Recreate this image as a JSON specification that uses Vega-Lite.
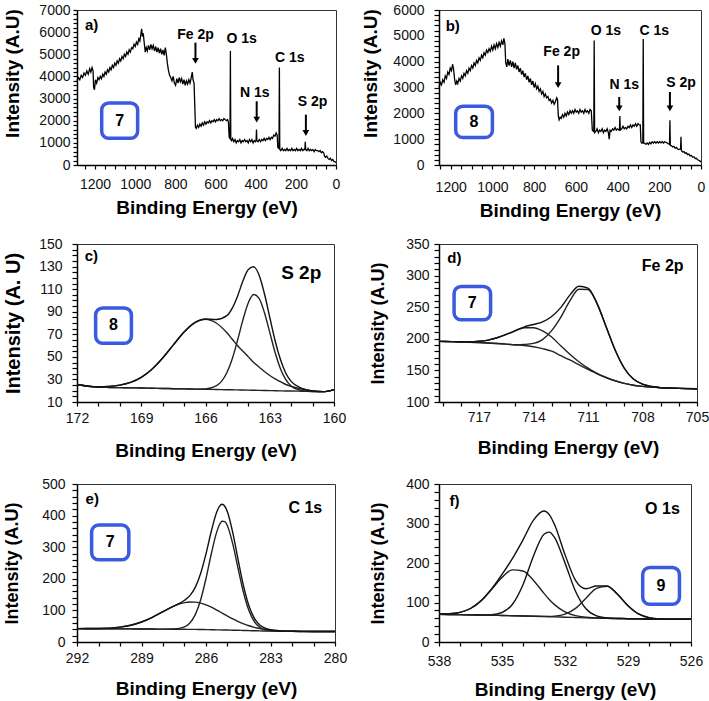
{
"$schema":"https://vega.github.io/schema/vega-lite/v6.json",
"padding":{"left":3,"top":2,"right":0,"bottom":0},
"background":"#ffffff",
"config":{
 "font":"Liberation Sans",
 "view":{"stroke":"#333","strokeWidth":1},
 "axis":{"grid":false,"domainColor":"#000","domainWidth":1.5,"tickColor":"#000","tickWidth":1.2,"tickSize":4,"labelFont":"Liberation Sans","labelFontSize":14,"labelColor":"#111","titleFont":"Liberation Sans","titleFontSize":19,"titleFontWeight":"bold","titleColor":"#000","labelFlush":false,"labelOverlap":false,"format":"d"},
 "text":{"font":"Liberation Sans","fontWeight":"bold","color":"#000"}
},
"resolve":{"scale":{"x":"independent","y":"independent"}},
"columns":2,
"align":{"row":"each","column":"each"},
"spacing":{"row":15,"column":13},
"concat":[
{"width":259,"height":155,
 "encoding":{
  "x":{"field":"e","type":"quantitative","scale":{"domain":[0,1290],"reverse":true,"nice":false,"zero":false},
   "axis":{"title":"Binding Energy (eV)","values":[0,50,100,150,200,250,300,350,400,450,500,550,600,650,700,750,800,850,900,950,1000,1050,1100,1150,1200,1250],"labelExpr":"datum.value % 200 === 0 ? datum.label : ''","tickSize":4,"labelPadding":8,"titlePadding":7}},
  "y":{"field":"i","type":"quantitative","scale":{"domain":[0,7000],"nice":false},
   "axis":{"title":"Intensity (A.U)","values":[0,200,400,600,800,1000,1200,1400,1600,1800,2000,2200,2400,2600,2800,3000,3200,3400,3600,3800,4000,4200,4400,4600,4800,5000,5200,5400,5600,5800,6000,6200,6400,6600,6800,7000],"labelExpr":"datum.value % 1000 === 0 ? datum.label : ''","tickSize":4,"labelPadding":3,"titlePadding":16,"titleY":63}}
 },
 "layer":[
  {"data":{"values":[
{"e":1290,"i":3800},{"e":1283,"i":3950},{"e":1276,"i":3850},{"e":1269,"i":4050},{"e":1262,"i":3950},{"e":1255,"i":4150},{"e":1248,"i":4050},{"e":1241,"i":4250},{"e":1234,"i":4100},{"e":1227,"i":4350},{"e":1221,"i":4200},{"e":1215,"i":4400},{"e":1210,"i":4250},{"e":1207,"i":3500},{"e":1203,"i":3400},{"e":1198,"i":3850},{"e":1192,"i":3700},{"e":1186,"i":3950},{"e":1180,"i":3850},{"e":1174,"i":4000},{"e":1168,"i":3900},{"e":1162,"i":4100},{"e":1156,"i":4000},{"e":1150,"i":4200},{"e":1144,"i":4100},{"e":1138,"i":4300},{"e":1132,"i":4200},{"e":1126,"i":4400},{"e":1120,"i":4300},{"e":1114,"i":4500},{"e":1108,"i":4400},{"e":1102,"i":4600},{"e":1096,"i":4500},{"e":1090,"i":4700},{"e":1084,"i":4600},{"e":1078,"i":4800},{"e":1072,"i":4700},{"e":1066,"i":4900},{"e":1060,"i":4800},{"e":1054,"i":5000},{"e":1048,"i":4900},{"e":1042,"i":5100},{"e":1036,"i":5000},{"e":1030,"i":5200},{"e":1024,"i":5100},{"e":1018,"i":5300},{"e":1012,"i":5250},{"e":1006,"i":5450},{"e":1000,"i":5350},{"e":994,"i":5550},{"e":988,"i":5450},{"e":982,"i":5700},{"e":977,"i":5600},{"e":972,"i":5900},{"e":968,"i":6150},{"e":964,"i":5800},{"e":960,"i":5950},{"e":955,"i":5500},{"e":950,"i":5100},{"e":945,"i":5300},{"e":940,"i":5150},{"e":934,"i":5400},{"e":928,"i":5200},{"e":922,"i":5450},{"e":916,"i":5250},{"e":910,"i":5400},{"e":904,"i":5150},{"e":898,"i":5350},{"e":892,"i":5100},{"e":886,"i":5300},{"e":880,"i":5050},{"e":874,"i":5250},{"e":868,"i":5000},{"e":862,"i":5200},{"e":856,"i":4950},{"e":850,"i":5300},{"e":845,"i":5000},{"e":840,"i":4600},{"e":835,"i":4300},{"e":829,"i":4050},{"e":823,"i":3950},{"e":817,"i":3800},{"e":811,"i":4000},{"e":805,"i":3700},{"e":799,"i":3600},{"e":793,"i":3900},{"e":787,"i":3700},{"e":781,"i":3950},{"e":775,"i":3750},{"e":769,"i":3900},{"e":763,"i":3650},{"e":757,"i":3850},{"e":751,"i":3600},{"e":745,"i":3800},{"e":739,"i":3650},{"e":733,"i":3850},{"e":727,"i":3700},{"e":721,"i":3950},{"e":716,"i":4200},{"e":712,"i":3850},{"e":707,"i":3700},{"e":703,"i":2600},{"e":700,"i":1700},{"e":696,"i":1650},{"e":690,"i":1800},{"e":684,"i":1700},{"e":678,"i":1850},{"e":672,"i":1750},{"e":666,"i":1900},{"e":660,"i":1800},{"e":654,"i":1950},{"e":648,"i":1850},{"e":642,"i":1950},{"e":636,"i":1900},{"e":630,"i":2000},{"e":624,"i":1900},{"e":618,"i":2000},{"e":612,"i":1950},{"e":606,"i":2050},{"e":600,"i":1950},{"e":594,"i":2050},{"e":588,"i":2000},{"e":582,"i":2100},{"e":576,"i":2000},{"e":570,"i":2050},{"e":564,"i":2000},{"e":558,"i":2100},{"e":552,"i":2050},{"e":546,"i":2000},{"e":540,"i":2050},{"e":536,"i":1950},{"e":532,"i":1250},{"e":528,"i":1200},{"e":526,"i":5150},{"e":524,"i":1150},{"e":520,"i":1100},{"e":515,"i":1200},{"e":509,"i":1050},{"e":503,"i":1150},{"e":497,"i":1000},{"e":491,"i":1100},{"e":485,"i":1050},{"e":479,"i":1150},{"e":473,"i":1000},{"e":467,"i":1100},{"e":461,"i":1050},{"e":455,"i":1150},{"e":449,"i":1050},{"e":443,"i":1100},{"e":437,"i":1000},{"e":431,"i":1150},{"e":425,"i":1050},{"e":419,"i":1150},{"e":413,"i":1000},{"e":407,"i":1100},{"e":401,"i":1050},{"e":398,"i":1100},{"e":396,"i":1600},{"e":394,"i":1100},{"e":388,"i":1050},{"e":382,"i":1150},{"e":376,"i":1050},{"e":370,"i":1150},{"e":364,"i":1100},{"e":358,"i":1200},{"e":352,"i":1100},{"e":346,"i":1200},{"e":340,"i":1150},{"e":334,"i":1250},{"e":328,"i":1150},{"e":322,"i":1250},{"e":316,"i":1200},{"e":310,"i":1350},{"e":304,"i":1300},{"e":298,"i":1450},{"e":293,"i":1350},{"e":290,"i":800},{"e":286,"i":750},{"e":284,"i":750},{"e":282,"i":4400},{"e":280,"i":700},{"e":275,"i":650},{"e":268,"i":750},{"e":262,"i":650},{"e":256,"i":700},{"e":250,"i":650},{"e":244,"i":750},{"e":238,"i":650},{"e":232,"i":700},{"e":226,"i":650},{"e":220,"i":750},{"e":214,"i":650},{"e":208,"i":700},{"e":202,"i":650},{"e":196,"i":750},{"e":190,"i":650},{"e":184,"i":700},{"e":178,"i":650},{"e":172,"i":750},{"e":166,"i":650},{"e":160,"i":700},{"e":155,"i":700},{"e":153,"i":1050},{"e":151,"i":700},{"e":145,"i":650},{"e":139,"i":750},{"e":133,"i":650},{"e":127,"i":700},{"e":121,"i":650},{"e":115,"i":700},{"e":109,"i":600},{"e":103,"i":700},{"e":97,"i":650},{"e":91,"i":650},{"e":85,"i":600},{"e":79,"i":650},{"e":73,"i":550},{"e":67,"i":600},{"e":61,"i":550},{"e":57,"i":400},{"e":52,"i":350},{"e":46,"i":400},{"e":40,"i":300},{"e":34,"i":250},{"e":28,"i":300},{"e":22,"i":200},{"e":16,"i":250},{"e":10,"i":150},{"e":5,"i":150},{"e":0,"i":100}
  ]},"mark":{"type":"line","color":"#000","strokeWidth":1.3}},
  {"data":{"values":[{"e":1167,"e2":988,"i":2800,"i2":1209}]},"mark":{"type":"rect","fill":"#fff","stroke":"#3a5ae0","strokeWidth":3.5,"cornerRadius":7},"encoding":{"x2":{"field":"e2"},"y2":{"field":"i2"}}},
  {"data":{"values":[{"e":1077,"i":2005,"t":"7"}]},"mark":{"type":"text","fontSize":16,"fontWeight":"bold"},"encoding":{"text":{"field":"t"}}},
  {"data":{"values":[{"e":700,"i":5877,"t":"Fe 2p"},{"e":470,"i":5695,"t":"O 1s"},{"e":230,"i":4832,"t":"C 1s"},{"e":405,"i":3241,"t":"N 1s"},{"e":117,"i":2832,"t":"S 2p"}]},"mark":{"type":"text","fontSize":14,"fontWeight":"bold"},"encoding":{"text":{"field":"t"}}},
  {"data":{"values":[{"e":1250,"i":6332,"t":"a)"}]},"mark":{"type":"text","fontSize":15,"fontWeight":"bold","align":"left"},"encoding":{"text":{"field":"t"}}},
  {"data":{"values":[{"e":700,"i":5527,"i2":4703},{"e":395,"i":2877,"i2":2050},{"e":150,"i":2273,"i2":1445}]},"mark":{"type":"rule","color":"#000","strokeWidth":2},"encoding":{"y2":{"field":"i2"}}},
  {"data":{"values":[{"e":700,"i":4703},{"e":395,"i":2050},{"e":150,"i":1445}]},"mark":{"type":"point","shape":"triangle-down","filled":true,"color":"#000","size":45,"opacity":1}}
 ]},
{"width":262,"height":155,
 "encoding":{
  "x":{"field":"e","type":"quantitative","scale":{"domain":[0,1256],"reverse":true,"nice":false,"zero":false},
   "axis":{"title":"Binding Energy (eV)","values":[0,50,100,150,200,250,300,350,400,450,500,550,600,650,700,750,800,850,900,950,1000,1050,1100,1150,1200,1250],"labelExpr":"datum.value % 200 === 0 ? datum.label : ''","tickSize":4,"labelPadding":11,"titlePadding":7}},
  "y":{"field":"i","type":"quantitative","scale":{"domain":[0,6000],"nice":false},
   "axis":{"title":"Intensity (A.U)","values":[0,200,400,600,800,1000,1200,1400,1600,1800,2000,2200,2400,2600,2800,3000,3200,3400,3600,3800,4000,4200,4400,4600,4800,5000,5200,5400,5600,5800,6000],"labelExpr":"datum.value % 1000 === 0 ? datum.label : ''","tickSize":5,"labelPadding":10,"titlePadding":12,"titleY":63}}
 },
 "layer":[
  {"data":{"values":[
{"e":1256,"i":3000},{"e":1250,"i":3200},{"e":1244,"i":3100},{"e":1238,"i":3300},{"e":1232,"i":3200},{"e":1226,"i":3450},{"e":1220,"i":3350},{"e":1214,"i":3600},{"e":1208,"i":3500},{"e":1202,"i":3750},{"e":1196,"i":3650},{"e":1191,"i":3900},{"e":1186,"i":3700},{"e":1181,"i":3300},{"e":1176,"i":3100},{"e":1171,"i":3250},{"e":1166,"i":3150},{"e":1160,"i":3350},{"e":1154,"i":3250},{"e":1148,"i":3450},{"e":1142,"i":3350},{"e":1136,"i":3550},{"e":1130,"i":3450},{"e":1124,"i":3650},{"e":1118,"i":3550},{"e":1112,"i":3750},{"e":1106,"i":3650},{"e":1100,"i":3850},{"e":1094,"i":3750},{"e":1088,"i":3950},{"e":1082,"i":3850},{"e":1076,"i":4050},{"e":1070,"i":3950},{"e":1064,"i":4150},{"e":1058,"i":4050},{"e":1052,"i":4250},{"e":1046,"i":4150},{"e":1040,"i":4350},{"e":1034,"i":4250},{"e":1028,"i":4450},{"e":1022,"i":4350},{"e":1016,"i":4500},{"e":1010,"i":4400},{"e":1004,"i":4600},{"e":998,"i":4450},{"e":992,"i":4650},{"e":986,"i":4500},{"e":980,"i":4700},{"e":974,"i":4550},{"e":968,"i":4750},{"e":962,"i":4600},{"e":956,"i":4800},{"e":950,"i":4650},{"e":945,"i":4900},{"e":940,"i":4700},{"e":936,"i":3950},{"e":931,"i":3800},{"e":926,"i":4100},{"e":920,"i":3850},{"e":914,"i":4050},{"e":908,"i":3800},{"e":902,"i":4000},{"e":896,"i":3750},{"e":890,"i":3950},{"e":884,"i":3700},{"e":878,"i":3850},{"e":872,"i":3600},{"e":866,"i":3750},{"e":860,"i":3500},{"e":854,"i":3650},{"e":848,"i":3400},{"e":842,"i":3550},{"e":836,"i":3300},{"e":830,"i":3450},{"e":824,"i":3200},{"e":818,"i":3350},{"e":812,"i":3100},{"e":806,"i":3250},{"e":800,"i":3000},{"e":794,"i":3150},{"e":788,"i":2950},{"e":782,"i":3050},{"e":776,"i":2850},{"e":770,"i":2950},{"e":764,"i":2750},{"e":758,"i":2850},{"e":752,"i":2650},{"e":746,"i":2750},{"e":740,"i":2600},{"e":734,"i":2650},{"e":728,"i":2500},{"e":722,"i":2550},{"e":716,"i":2400},{"e":710,"i":2500},{"e":704,"i":2350},{"e":698,"i":2450},{"e":692,"i":2600},{"e":688,"i":2550},{"e":684,"i":1900},{"e":680,"i":1750},{"e":675,"i":1850},{"e":670,"i":1800},{"e":664,"i":1950},{"e":658,"i":1850},{"e":652,"i":2000},{"e":646,"i":1900},{"e":640,"i":2050},{"e":634,"i":1950},{"e":628,"i":2100},{"e":622,"i":2000},{"e":616,"i":2100},{"e":610,"i":2000},{"e":604,"i":2150},{"e":598,"i":2050},{"e":592,"i":2100},{"e":586,"i":2000},{"e":580,"i":2150},{"e":574,"i":2050},{"e":568,"i":2100},{"e":562,"i":2000},{"e":556,"i":2150},{"e":550,"i":2050},{"e":544,"i":2100},{"e":538,"i":2000},{"e":532,"i":2150},{"e":526,"i":2100},{"e":521,"i":1350},{"e":516,"i":1300},{"e":514,"i":1300},{"e":512,"i":4820},{"e":510,"i":1250},{"e":504,"i":1300},{"e":498,"i":1400},{"e":492,"i":1250},{"e":486,"i":1350},{"e":480,"i":1300},{"e":474,"i":1400},{"e":468,"i":1250},{"e":462,"i":1350},{"e":456,"i":1300},{"e":450,"i":1400},{"e":444,"i":1250},{"e":440,"i":1000},{"e":436,"i":1350},{"e":430,"i":1300},{"e":424,"i":1400},{"e":418,"i":1350},{"e":412,"i":1450},{"e":406,"i":1350},{"e":400,"i":1400},{"e":394,"i":1350},{"e":391,"i":1350},{"e":389,"i":1900},{"e":387,"i":1350},{"e":380,"i":1400},{"e":374,"i":1500},{"e":368,"i":1400},{"e":362,"i":1450},{"e":356,"i":1400},{"e":350,"i":1500},{"e":344,"i":1450},{"e":338,"i":1550},{"e":332,"i":1450},{"e":326,"i":1550},{"e":320,"i":1500},{"e":314,"i":1600},{"e":308,"i":1500},{"e":302,"i":1600},{"e":296,"i":1550},{"e":291,"i":1550},{"e":288,"i":900},{"e":284,"i":850},{"e":279,"i":850},{"e":277,"i":4880},{"e":275,"i":850},{"e":270,"i":850},{"e":264,"i":800},{"e":258,"i":850},{"e":252,"i":800},{"e":246,"i":880},{"e":240,"i":820},{"e":234,"i":900},{"e":228,"i":850},{"e":222,"i":900},{"e":216,"i":850},{"e":210,"i":900},{"e":204,"i":850},{"e":198,"i":900},{"e":192,"i":860},{"e":186,"i":900},{"e":180,"i":850},{"e":174,"i":900},{"e":168,"i":880},{"e":162,"i":850},{"e":156,"i":820},{"e":151,"i":800},{"e":149,"i":1735},{"e":147,"i":760},{"e":142,"i":750},{"e":136,"i":700},{"e":130,"i":720},{"e":124,"i":650},{"e":118,"i":680},{"e":112,"i":620},{"e":106,"i":600},{"e":100,"i":620},{"e":98,"i":620},{"e":96,"i":1090},{"e":94,"i":560},{"e":88,"i":500},{"e":82,"i":520},{"e":76,"i":450},{"e":70,"i":470},{"e":64,"i":400},{"e":58,"i":420},{"e":52,"i":350},{"e":46,"i":370},{"e":40,"i":300},{"e":34,"i":320},{"e":28,"i":250},{"e":22,"i":260},{"e":16,"i":200},{"e":10,"i":180},{"e":5,"i":150},{"e":0,"i":120}
  ]},"mark":{"type":"line","color":"#000","strokeWidth":1.3}},
  {"data":{"values":[{"e":1176,"e2":1000,"i":2274,"i2":1067}]},"mark":{"type":"rect","fill":"#fff","stroke":"#3a5ae0","strokeWidth":3.5,"cornerRadius":7},"encoding":{"x2":{"field":"e2"},"y2":{"field":"i2"}}},
  {"data":{"values":[{"e":1088,"i":1670,"t":"8"}]},"mark":{"type":"text","fontSize":16,"fontWeight":"bold"},"encoding":{"text":{"field":"t"}}},
  {"data":{"values":[{"e":668,"i":4369,"t":"Fe 2p"},{"e":456,"i":5204,"t":"O 1s"},{"e":224,"i":5204,"t":"C 1s"},{"e":368,"i":3084,"t":"N 1s"},{"e":96,"i":3187,"t":"S 2p"}]},"mark":{"type":"text","fontSize":14,"fontWeight":"bold"},"encoding":{"text":{"field":"t"}}},
  {"data":{"values":[{"e":1224,"i":5371,"t":"b)"}]},"mark":{"type":"text","fontSize":15,"fontWeight":"bold","align":"left"},"encoding":{"text":{"field":"t"}}},
  {"data":{"values":[{"e":685,"i":3855,"i2":3091},{"e":392,"i":2634,"i2":2191},{"e":149,"i":2827,"i2":2191}]},"mark":{"type":"rule","color":"#000","strokeWidth":2},"encoding":{"y2":{"field":"i2"}}},
  {"data":{"values":[{"e":685,"i":3091},{"e":392,"i":2191},{"e":149,"i":2191}]},"mark":{"type":"point","shape":"triangle-down","filled":true,"color":"#000","size":45,"opacity":1}}
 ]},
{"width":257,"height":158,
 "encoding":{
  "x":{"field":"e","type":"quantitative","scale":{"domain":[160,172],"reverse":true,"nice":false,"zero":false},
   "axis":{"title":"Binding Energy (eV)","values":[160,161,162,163,164,165,166,167,168,169,170,171,172],"labelExpr":"(datum.value - 160) % 3 === 0 ? datum.label : ''","tickSize":4,"labelPadding":5,"titlePadding":16}},
  "y":{"field":"i","type":"quantitative","scale":{"domain":[10,150],"nice":false,"zero":false},
   "axis":{"title":"Intensity (A. U)","titleFontSize":20,"values":[10,15,20,25,30,35,40,45,50,55,60,65,70,75,80,85,90,95,100,105,110,115,120,125,130,135,140,145,150],"labelExpr":"(datum.value - 10) % 20 === 0 ? datum.label : ''","tickSize":5,"labelPadding":10,"titlePadding":15}}
 },
 "layer":[
  {"data":{"values":[
{"e":172,"bg":25.5,"c1":25.5,"c2":25.5,"env":25.5},{"e":171.5,"bg":24,"c1":24.1,"c2":24,"env":24.1},{"e":171,"bg":23.2,"c1":23.5,"c2":23.2,"env":23.5},{"e":170.5,"bg":22.9,"c1":23.8,"c2":22.9,"env":23.8},{"e":170,"bg":22.75,"c1":25,"c2":22.75,"env":25},{"e":169.5,"bg":22.56,"c1":27.4,"c2":22.56,"env":27.4},{"e":169,"bg":22.4,"c1":31.9,"c2":22.4,"env":31.9},{"e":168.5,"bg":22.2,"c1":39.1,"c2":22.2,"env":39.1},{"e":168,"bg":22,"c1":49,"c2":22,"env":49},{"e":167.5,"bg":21.8,"c1":60.6,"c2":21.8,"env":60.6},{"e":167,"bg":21.6,"c1":72,"c2":21.6,"env":72},{"e":166.5,"bg":21.4,"c1":80.3,"c2":21.4,"env":80.4},{"e":166,"bg":21.25,"c1":83.25,"c2":21.6,"env":83.6},{"e":165.5,"bg":21.06,"c1":80,"c2":24.2,"env":83.1},{"e":165,"bg":20.9,"c1":71.3,"c2":36.1,"env":86.5},{"e":164.75,"bg":20.8,"c1":65.6,"c2":48.4,"env":93.2},{"e":164.5,"bg":20.7,"c1":59.8,"c2":64.9,"env":104},{"e":164.25,"bg":20.6,"c1":55,"c2":83,"env":117.4},{"e":164,"bg":20.5,"c1":50,"c2":98,"env":127.5},{"e":163.75,"bg":20.4,"c1":45,"c2":105.2,"env":129.8},{"e":163.5,"bg":20.3,"c1":41,"c2":101.9,"env":122.6},{"e":163.25,"bg":20.2,"c1":37,"c2":89.3,"env":106.1},{"e":163,"bg":20.1,"c1":33.5,"c2":71.7,"env":85.1},{"e":162.75,"bg":20,"c1":30.5,"c2":53.8,"env":64.3},{"e":162.5,"bg":19.9,"c1":28,"c2":39.5,"env":47.6},{"e":162.25,"bg":19.8,"c1":25.5,"c2":29.8,"env":35.5},{"e":162,"bg":19.75,"c1":23.8,"c2":24.2,"env":28.25},{"e":161.5,"bg":19.5,"c1":21.5,"c2":20.1,"env":22.1},{"e":161,"bg":19.3,"c1":19.8,"c2":19.3,"env":19.8},{"e":160.5,"bg":19.2,"c1":19.2,"c2":19.2,"env":19.2},{"e":160,"bg":21,"c1":21,"c2":21,"env":21}
  ]},"transform":[{"fold":["bg","c1","c2","env"],"as":["curve","i"]}],
   "mark":{"type":"line","strokeWidth":1.4,"interpolate":"monotone"},
   "encoding":{"detail":{"field":"curve"},"color":{"field":"curve","type":"nominal","scale":{"domain":["bg","c1","c2","env"],"range":["#222","#222","#222","#111"]},"legend":null}}},
  {"data":{"values":[{"e":171.13,"e2":169.46,"i":93.4,"i2":62.1}]},"mark":{"type":"rect","fill":"#fff","stroke":"#3a5ae0","strokeWidth":3.5,"cornerRadius":7},"encoding":{"x2":{"field":"e2"},"y2":{"field":"i2"}}},
  {"data":{"values":[{"e":170.3,"i":77.8,"t":"8"}]},"mark":{"type":"text","fontSize":16,"fontWeight":"bold"},"encoding":{"text":{"field":"t"}}},
  {"data":{"values":[{"e":161.53,"i":124.7,"t":"S 2p"}]},"mark":{"type":"text","fontSize":19,"fontWeight":"bold"},"encoding":{"text":{"field":"t"}}},
  {"data":{"values":[{"e":171.64,"i":139,"t":"c)"}]},"mark":{"type":"text","fontSize":15,"fontWeight":"bold","align":"left"},"encoding":{"text":{"field":"t"}}}
 ]},
{"width":258,"height":158,
 "encoding":{
  "x":{"field":"e","type":"quantitative","scale":{"domain":[705,719.2],"reverse":true,"nice":false,"zero":false},
   "axis":{"title":"Binding Energy (eV)","values":[705,706,707,708,709,710,711,712,713,714,715,716,717,718,719],"labelExpr":"(datum.value - 705) % 3 === 0 ? datum.label : ''","tickSize":4,"labelPadding":4,"titlePadding":14}},
  "y":{"field":"i","type":"quantitative","scale":{"domain":[100,350],"nice":false,"zero":false},
   "axis":{"title":"Intensity (A.U)","titleFontSize":18,"values":[100,110,120,130,140,150,160,170,180,190,200,210,220,230,240,250,260,270,280,290,300,310,320,330,340,350],"labelExpr":"datum.value % 50 === 0 ? datum.label : ''","tickSize":5,"labelPadding":5,"titlePadding":18}}
 },
 "layer":[
  {"data":{"values":[
{"e":719.2,"bg":196,"a":196,"b":196,"env":196},{"e":718.5,"bg":195.5,"a":195.6,"b":195.5,"env":195.6},{"e":718,"bg":195,"a":195.3,"b":195,"env":195.3},{"e":717.5,"bg":194.5,"a":195.3,"b":194.5,"env":195.3},{"e":717,"bg":194,"a":196.1,"b":194,"env":196.1},{"e":716.5,"bg":193.3,"a":198,"b":193.3,"env":198},{"e":716,"bg":192.5,"a":201.7,"b":192.5,"env":201.7},{"e":715.5,"bg":191.5,"a":206.9,"b":191.6,"env":207},{"e":715,"bg":190.2,"a":212.5,"b":190.6,"env":212.9},{"e":714.5,"bg":189.5,"a":217.4,"b":191.1,"env":219},{"e":714,"bg":187.5,"a":217.5,"b":192.7,"env":222.7},{"e":713.5,"bg":184.5,"a":212.4,"b":198.8,"env":226.7},{"e":713,"bg":180.5,"a":202.8,"b":213,"env":235.3},{"e":712.5,"bg":173.5,"a":188.9,"b":234,"env":249.4},{"e":712,"bg":166.5,"a":175.7,"b":259.9,"env":269.1},{"e":711.5,"bg":159,"a":163.7,"b":278.5,"env":283.2},{"e":711,"bg":151.5,"a":153.6,"b":278,"env":280.1},{"e":710.5,"bg":144.5,"a":145.3,"b":255.3,"env":256.1},{"e":710,"bg":138.5,"a":138.8,"b":218.8,"env":219.1},{"e":709.5,"bg":133.5,"a":133.6,"b":181.8,"env":181.9},{"e":709,"bg":129.5,"a":129.5,"b":153.4,"env":153.4},{"e":708.5,"bg":126.5,"a":126.5,"b":136.4,"env":136.4},{"e":708,"bg":124.8,"a":124.8,"b":128.2,"env":128.2},{"e":707.5,"bg":123.5,"a":123.5,"b":124.5,"env":124.5},{"e":707,"bg":122.5,"a":122.5,"b":122.7,"env":122.7},{"e":706,"bg":121.5,"a":121.5,"b":121.5,"env":121.5},{"e":705,"bg":121,"a":121,"b":121,"env":121}
  ]},"transform":[{"fold":["bg","a","b","env"],"as":["curve","i"]}],
   "mark":{"type":"line","strokeWidth":1.4,"interpolate":"monotone"},
   "encoding":{"detail":{"field":"curve"},"color":{"field":"curve","type":"nominal","scale":{"domain":["bg","a","b","env"],"range":["#333","#666","#555","#111"]},"legend":null}}},
  {"data":{"values":[{"e":718.37,"e2":716.36,"i":282.9,"i2":230}]},"mark":{"type":"rect","fill":"#fff","stroke":"#3a5ae0","strokeWidth":3.5,"cornerRadius":7},"encoding":{"x2":{"field":"e2"},"y2":{"field":"i2"}}},
  {"data":{"values":[{"e":717.37,"i":256.5,"t":"7"}]},"mark":{"type":"text","fontSize":16,"fontWeight":"bold"},"encoding":{"text":{"field":"t"}}},
  {"data":{"values":[{"e":706.89,"i":314.6,"t":"Fe 2p"}]},"mark":{"type":"text","fontSize":16,"fontWeight":"bold"},"encoding":{"text":{"field":"t"}}},
  {"data":{"values":[{"e":718.74,"i":327.3,"t":"d)"}]},"mark":{"type":"text","fontSize":15,"fontWeight":"bold","align":"left"},"encoding":{"text":{"field":"t"}}}
 ]},
{"width":258,"height":158,
 "encoding":{
  "x":{"field":"e","type":"quantitative","scale":{"domain":[280,292],"reverse":true,"nice":false,"zero":false},
   "axis":{"title":"Binding Energy (eV)","values":[280,281,282,283,284,285,286,287,288,289,290,291,292],"labelExpr":"(datum.value - 280) % 3 === 0 ? datum.label : ''","tickSize":4,"labelPadding":5,"titlePadding":14}},
  "y":{"field":"i","type":"quantitative","scale":{"domain":[0,500],"nice":false},
   "axis":{"title":"Intensity (A.U)","titleFontSize":18,"values":[0,20,40,60,80,100,120,140,160,180,200,220,240,260,280,300,320,340,360,380,400,420,440,460,480,500],"labelExpr":"datum.value % 100 === 0 ? datum.label : ''","tickSize":5,"labelPadding":7,"titlePadding":20}}
 },
 "layer":[
  {"data":{"values":[
{"e":292,"bg":42.3,"c1":42.4,"c2":42.3,"env":42.4},{"e":291,"bg":42,"c1":42.8,"c2":42,"env":42.8},{"e":290,"bg":41.6,"c1":47,"c2":41.6,"env":47},{"e":289.5,"bg":41.4,"c1":53,"c2":41.4,"env":53},{"e":289,"bg":41.2,"c1":63.3,"c2":41.2,"env":63.3},{"e":288.5,"bg":41,"c1":78.2,"c2":41,"env":78.2},{"e":288,"bg":40.7,"c1":96.1,"c2":40.7,"env":96.1},{"e":287.5,"bg":40.5,"c1":113.2,"c2":41.2,"env":113.9},{"e":287,"bg":40.2,"c1":124.6,"c2":47.7,"env":132.1},{"e":286.75,"bg":40,"c1":126.8,"c2":60.1,"env":146.9},{"e":286.5,"bg":39.8,"c1":126.3,"c2":86.5,"env":173},{"e":286.25,"bg":39.5,"c1":123.1,"c2":133.1,"env":216.7},{"e":286,"bg":39.2,"c1":117.5,"c2":201,"env":279.3},{"e":285.75,"bg":38.9,"c1":110.1,"c2":280.1,"env":351.3},{"e":285.5,"bg":38.5,"c1":101.2,"c2":348.6,"env":411.3},{"e":285.375,"bg":38.3,"c1":96.4,"c2":371,"env":429.1},{"e":285.25,"bg":38.2,"c1":91.7,"c2":382.2,"env":435.7},{"e":285.125,"bg":38,"c1":86.9,"c2":380.7,"env":429.6},{"e":285,"bg":37.8,"c1":82.1,"c2":366.9,"env":411.2},{"e":284.75,"bg":37.4,"c1":72.9,"c2":308.9,"env":344.4},{"e":284.5,"bg":37,"c1":64.7,"c2":230.2,"env":257.9},{"e":284.25,"bg":36.5,"c1":57.4,"c2":155.1,"env":176},{"e":284,"bg":36,"c1":51.3,"c2":98.8,"env":114.1},{"e":283.75,"bg":35.6,"c1":46.4,"c2":64.2,"env":75},{"e":283.5,"bg":35.2,"c1":42.6,"c2":46.5,"env":53.9},{"e":283.25,"bg":34.8,"c1":39.8,"c2":38.6,"env":43.6},{"e":283,"bg":34.5,"c1":37.7,"c2":35.6,"env":38.8},{"e":282.5,"bg":34.1,"c1":35.3,"c2":34.1,"env":35.3},{"e":282,"bg":33.8,"c1":34.2,"c2":33.8,"env":34.2},{"e":281,"bg":33.3,"c1":33.3,"c2":33.3,"env":33.3},{"e":280,"bg":33,"c1":33,"c2":33,"env":33}
  ]},"transform":[{"fold":["bg","c1","c2","env"],"as":["curve","i"]}],
   "mark":{"type":"line","strokeWidth":1.4,"interpolate":"monotone"},
   "encoding":{"detail":{"field":"curve"},"color":{"field":"curve","type":"nominal","scale":{"domain":["bg","c1","c2","env"],"range":["#333","#444","#555","#222"]},"legend":null}}},
  {"data":{"values":[{"e":291.32,"e2":289.59,"i":370,"i2":260}]},"mark":{"type":"rect","fill":"#fff","stroke":"#3a5ae0","strokeWidth":3.5,"cornerRadius":7},"encoding":{"x2":{"field":"e2"},"y2":{"field":"i2"}}},
  {"data":{"values":[{"e":290.46,"i":315,"t":"7"}]},"mark":{"type":"text","fontSize":16,"fontWeight":"bold"},"encoding":{"text":{"field":"t"}}},
  {"data":{"values":[{"e":281.38,"i":424,"t":"C 1s"}]},"mark":{"type":"text","fontSize":16,"fontWeight":"bold"},"encoding":{"text":{"field":"t"}}},
  {"data":{"values":[{"e":291.6,"i":452,"t":"e)"}]},"mark":{"type":"text","fontSize":15,"fontWeight":"bold","align":"left"},"encoding":{"text":{"field":"t"}}}
 ]},
{"width":252,"height":158,
 "encoding":{
  "x":{"field":"e","type":"quantitative","scale":{"domain":[526,538],"reverse":true,"nice":false,"zero":false},
   "axis":{"title":"Binding Energy (eV)","values":[526,527,528,529,530,531,532,533,534,535,536,537,538],"labelExpr":"(datum.value - 526) % 3 === 0 ? datum.label : ''","tickSize":4,"labelPadding":8,"titlePadding":12}},
  "y":{"field":"i","type":"quantitative","scale":{"domain":[0,400],"nice":false},
   "axis":{"title":"Intensity (A.U)","titleFontSize":18,"values":[0,20,40,60,80,100,120,140,160,180,200,220,240,260,280,300,320,340,360,380,400],"labelExpr":"datum.value % 100 === 0 ? datum.label : ''","tickSize":5,"labelPadding":5,"titlePadding":18}}
 },
 "layer":[
  {"data":{"values":[
{"e":538,"bg":70.2,"p1":70.6,"p2":70.2,"p3":70.2,"env":70.6},{"e":537.5,"bg":69.7,"p1":71.4,"p2":69.7,"p3":69.7,"env":71.4},{"e":537,"bg":69.2,"p1":75,"p2":69.2,"p3":69.2,"env":75},{"e":536.5,"bg":68.8,"p1":84.8,"p2":68.8,"p3":68.8,"env":84.8},{"e":536,"bg":68.3,"p1":104.1,"p2":68.5,"p3":68.3,"env":104.3},{"e":535.5,"bg":67.8,"p1":132.9,"p2":69.2,"p3":67.8,"env":134.3},{"e":535,"bg":67.2,"p1":163.6,"p2":74.7,"p3":67.2,"env":171.1},{"e":534.5,"bg":66.6,"p1":182.7,"p2":95.6,"p3":66.6,"env":211.7},{"e":534,"bg":66,"p1":179.7,"p2":144.9,"p3":66,"env":258.6},{"e":533.5,"bg":65.3,"p1":155.9,"p2":217.8,"p3":65.3,"env":308.4},{"e":533,"bg":64.5,"p1":123.2,"p2":272.6,"p3":64.8,"env":331.6},{"e":532.75,"bg":64.1,"p1":107.8,"p2":278.1,"p3":64.9,"env":322.6},{"e":532.5,"bg":63.7,"p1":94.6,"p2":264.8,"p3":65.5,"env":297.5},{"e":532,"bg":62.8,"p1":76.1,"p2":200.2,"p3":70.5,"env":221.2},{"e":531.5,"bg":62,"p1":66.6,"p2":128.5,"p3":85.2,"env":156.3},{"e":531,"bg":61.2,"p1":62.5,"p2":84,"p3":110.9,"env":135},{"e":530.5,"bg":60.6,"p1":60.9,"p2":66.1,"p3":135.9,"env":141.7},{"e":530,"bg":60,"p1":60,"p2":61,"p3":140.7,"env":141.7},{"e":529.5,"bg":59.5,"p1":59.5,"p2":59.6,"p3":120.7,"env":120.8},{"e":529,"bg":59,"p1":59,"p2":59,"p3":91.8,"env":91.8},{"e":528.5,"bg":58.6,"p1":58.6,"p2":58.6,"p3":71.1,"env":71.1},{"e":528,"bg":58.3,"p1":58.3,"p2":58.3,"p3":61.6,"env":61.6},{"e":527.5,"bg":58,"p1":58,"p2":58,"p3":58.6,"env":58.6},{"e":527,"bg":57.8,"p1":57.8,"p2":57.8,"p3":57.9,"env":57.9},{"e":526.5,"bg":57.6,"p1":57.6,"p2":57.6,"p3":57.6,"env":57.6},{"e":526,"bg":57.5,"p1":57.5,"p2":57.5,"p3":57.5,"env":57.5}
  ]},"transform":[{"fold":["bg","p1","p2","p3","env"],"as":["curve","i"]}],
   "mark":{"type":"line","strokeWidth":1.4,"interpolate":"monotone"},
   "encoding":{"detail":{"field":"curve"},"color":{"field":"curve","type":"nominal","scale":{"domain":["bg","p1","p2","p3","env"],"range":["#222","#555","#555","#555","#222"]},"legend":null}}},
  {"data":{"values":[{"e":528.3,"e2":526.55,"i":188.6,"i2":95.6}]},"mark":{"type":"rect","fill":"#fff","stroke":"#3a5ae0","strokeWidth":3.5,"cornerRadius":7},"encoding":{"x2":{"field":"e2"},"y2":{"field":"i2"}}},
  {"data":{"values":[{"e":527.43,"i":142,"t":"9"}]},"mark":{"type":"text","fontSize":16,"fontWeight":"bold"},"encoding":{"text":{"field":"t"}}},
  {"data":{"values":[{"e":527.36,"i":336.6,"t":"O 1s"}]},"mark":{"type":"text","fontSize":16,"fontWeight":"bold"},"encoding":{"text":{"field":"t"}}},
  {"data":{"values":[{"e":537.5,"i":356,"t":"f)"}]},"mark":{"type":"text","fontSize":15,"fontWeight":"bold","align":"left"},"encoding":{"text":{"field":"t"}}}
 ]}
]
}
